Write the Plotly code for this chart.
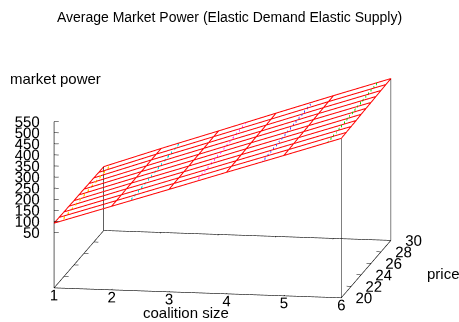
import plotly.graph_objects as go

# ---- data ----
coalition_size = [1, 2, 3, 4, 5, 6]
price = [20, 21, 22, 23, 24, 25, 26, 27, 28, 29, 30]
market_power = [
    [92, 92, 91, 91, 90, 90, 90, 89, 89, 88, 88],
    [177, 177, 177, 178, 178, 178, 178, 178, 179, 179, 179],
    [262, 263, 263, 264, 264, 265, 265, 266, 266, 267, 267],
    [348, 349, 349, 350, 351, 352, 353, 353, 354, 355, 356],
    [433, 434, 435, 436, 437, 438, 440, 441, 442, 443, 444],
    [519, 520, 521, 522, 524, 525, 526, 527, 528, 529, 530],
]
overlay_size = [1.13, 2.31, 3.47, 4.63, 5.77]
overlay_price = [20, 30]
overlay_power = [[103, 99], [200, 202], [302, 306], [402, 410], [500, 510]]
overlay_colors = ["#ffd000", "#00e0e0", "#ff40ff", "#4848ff", "#00e000"]

z_ticks = [50, 100, 150, 200, 250, 300, 350, 400, 450, 500, 550]
x_ticks = [1, 2, 3, 4, 5, 6]
y_ticks = [20, 22, 24, 26, 28, 30]
z_base = -200  # base plane (ticslevel)
z_top = 550

FONT = "Liberation Sans, Arial, sans-serif"
TICK_X = 0.08   # tick length along the coalition axis (data units)
TICK_Y = 0.15   # tick length along the price axis (data units)
LABEL_DROP = 32  # x tick labels sit just below the base (z units)
fig = go.Figure()


def seg_trace(xs, ys, zs, color="black", width=1.2, dash="solid"):
    return go.Scatter3d(x=xs, y=ys, z=zs, mode="lines",
                        line=dict(color=color, width=width, dash=dash),
                        showlegend=False, hoverinfo="skip")


# surface mesh: lines of constant price
for j, p in enumerate(price):
    fig.add_trace(seg_trace(coalition_size, [p] * len(coalition_size),
                            [row[j] for row in market_power], "#ff0000", 2))
# lines of constant coalition size
for i, c in enumerate(coalition_size):
    fig.add_trace(seg_trace([c] * len(price), price, market_power[i], "#ff0000", 2))
# coloured dotted lines
for s, zz, col in zip(overlay_size, overlay_power, overlay_colors):
    fig.add_trace(seg_trace([s, s], overlay_price, zz, col, 3, "dot"))

x0, x1 = coalition_size[0], coalition_size[-1]
y0, y1 = price[0], price[-1]
# base box
fig.add_trace(seg_trace([x0, x1, x1, x0, x0], [y0, y0, y1, y1, y0], [z_base] * 5))
# corner verticals (front-left one is the z axis)
for ci, pj in [(0, 0), (0, -1), (-1, 0), (-1, -1)]:
    ztop = z_top if (ci == 0 and pj == 0) else market_power[ci][pj]
    fig.add_trace(seg_trace([coalition_size[ci]] * 2, [price[pj]] * 2, [z_base, ztop]))

# tick marks
tx, ty, tz = [], [], []
for z in z_ticks:
    tx += [x0, x0 + TICK_X, None]; ty += [y0, y0, None]; tz += [z, z, None]
for xv in x_ticks:
    tx += [xv, xv, None, xv, xv, None]
    ty += [y0, y0 + TICK_Y, None, y1, y1 - TICK_Y, None]
    tz += [z_base, z_base, None, z_base, z_base, None]
for yv in y_ticks:
    tx += [x1, x1 - TICK_X, None, x0, x0 + TICK_X, None]
    ty += [yv, yv, None, yv, yv, None]
    tz += [z_base, z_base, None, z_base, z_base, None]
fig.add_trace(seg_trace(tx, ty, tz, "black", 1))

# tick labels
tfont = dict(family=FONT, size=15, color="black")
fig.add_trace(go.Scatter3d(x=[x0] * len(z_ticks), y=[y0] * len(z_ticks), z=z_ticks,
                           mode="text", text=[str(v) for v in z_ticks],
                           textposition="middle left", textfont=tfont,
                           showlegend=False, hoverinfo="skip"))
fig.add_trace(go.Scatter3d(x=x_ticks, y=[y0] * len(x_ticks),
                           z=[z_base - LABEL_DROP] * len(x_ticks),
                           mode="text", text=[str(v) for v in x_ticks],
                           textposition="middle center", textfont=tfont,
                           showlegend=False, hoverinfo="skip"))
fig.add_trace(go.Scatter3d(x=[x1] * len(y_ticks), y=y_ticks, z=[z_base] * len(y_ticks),
                           mode="text", text=[str(v) for v in y_ticks],
                           textposition="middle right", textfont=tfont,
                           showlegend=False, hoverinfo="skip"))

ax_common = dict(showbackground=False, showgrid=False, zeroline=False,
                 showline=False, showspikes=False, ticks="", showticklabels=False,
                 title=dict(text=""))
SCALE = 2.075
EYE = 10.0
PAD = 45  # symmetric z padding so the range centre stays the same
z_lo, z_hi = z_base - PAD, z_top + PAD
fig.update_layout(
    width=459, height=322,
    margin=dict(l=0, r=0, t=0, b=0),
    paper_bgcolor="white",
    title=dict(text="Average Market Power (Elastic Demand Elastic Supply)",
               x=0.5, xanchor="center", y=1 - 17 / 322, yanchor="middle",
               font=dict(family=FONT, size=14, color="black")),
    scene=dict(
        domain=dict(x=[0, 0.97], y=[0, 0.876]),
        xaxis=dict(range=[x0 - 0.01, x1 + 0.01], **ax_common),
        yaxis=dict(range=[y0 - 0.02, y1 + 0.02], **ax_common),
        zaxis=dict(range=[z_lo, z_hi], **ax_common),
        aspectmode="manual",
        aspectratio=dict(x=1.0 * SCALE, y=1.0 * SCALE,
                         z=0.58 * SCALE * (z_hi - z_lo) / (z_top - z_base)),
        camera=dict(projection=dict(type="orthographic"),
                    eye=dict(x=0.167 * EYE, y=-0.966 * EYE, z=0.2 * EYE),
                    up=dict(x=0, y=0, z=1), center=dict(x=0, y=0, z=0)),
    ),
    annotations=[
        dict(text="market power", x=8 / 459, y=1 - 78 / 322, xref="paper", yref="paper",
             xanchor="left", yanchor="middle", showarrow=False,
             font=dict(family=FONT, size=15, color="black")),
        dict(text="coalition size", x=186 / 459, y=1 - 312 / 322, xref="paper", yref="paper",
             xanchor="center", yanchor="middle", showarrow=False,
             font=dict(family=FONT, size=15, color="black")),
        dict(text="price", x=425 / 459, y=1 - 273 / 322, xref="paper", yref="paper",
             xanchor="left", yanchor="middle", showarrow=False,
             font=dict(family=FONT, size=15, color="black")),
    ],
)
fig.write_html("out.html", config={"displayModeBar": False},
               post_script="document.body.style.margin='0';")
